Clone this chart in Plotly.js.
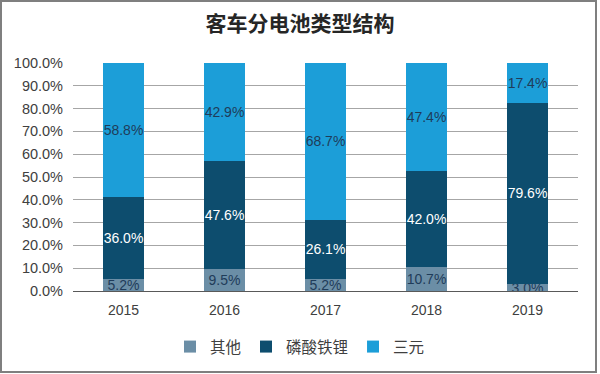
<!DOCTYPE html>
<html><head><meta charset="utf-8">
<script src="https://cdn.plot.ly/plotly-3.0.1.min.js"></script>
<style>html,body{margin:0;padding:0;background:#fff}#chart{width:600px;height:374px}</style>
</head><body><div id="chart"></div>
<script>
const years = ['2015','2016','2017','2018','2019'];
const other = [5.2, 9.5, 5.2, 10.7, 3.0];
const lfp = [36.0, 47.6, 26.1, 42.0, 79.6];
const ternary = [58.8, 42.9, 68.7, 47.4, 17.4];
const seriesNames = ['其他', '磷酸铁锂', '三元'];
const colors = ['#6b8ea6', '#0d4d6e', '#1c9ed8'];
const labelColors = ['#1f3c5a', '#ffffff', '#1f3c5a'];
const yTicks = [0,10,20,30,40,50,60,70,80,90,100];

const font = '"Liberation Sans", Arial, "Noto Sans CJK SC", sans-serif';
const series = [other, lfp, ternary];
const traces = series.map((vals, i) => ({
  type: 'bar', x: years, y: vals, name: seriesNames[i],
  marker: {color: colors[i]},
  text: vals.map(v => v.toFixed(1) + '%'),
  textposition: 'inside', insidetextanchor: 'middle', textangle: 0,
  constraintext: 'none',
  textfont: {family: font, size: 14, color: labelColors[i]},
  hoverinfo: 'none'
}));

const layout = {
  width: 600, height: 374,
  margin: {l: 73, r: 22, t: 63, b: 83},
  barmode: 'stack', bargap: 0.6,
  paper_bgcolor: '#fff', plot_bgcolor: '#fff',
  font: {family: font, color: '#404040'},
  title: {text: '客车分电池类型结构', x: 0.5, xref: 'container', y: 1 - 24/374, yref: 'container', yanchor: 'middle',
    font: {family: '"Noto Sans CJK SC", sans-serif', size: 21, color: '#262626', weight: 'bold'}},
  xaxis: {type: 'category', showgrid: false, showline: true, linecolor: '#595959', linewidth: 1,
    ticks: '', ticklabelstandoff: 6, tickfont: {size: 14, color: '#404040'}, fixedrange: true},
  yaxis: {range: [0, 100], tickvals: yTicks, ticktext: yTicks.map(v => v.toFixed(1) + '%'),
    showgrid: true, gridcolor: '#a6a6a6', gridwidth: 1, zeroline: false, showline: false,
    ticks: '', ticklabelstandoff: 9, tickfont: {size: 14.5, color: '#404040'}, fixedrange: true},
  showlegend: true,
  legend: {orientation: 'h', xref: 'container', yref: 'container', x: 0.5, xanchor: 'center',
    y: 1 - 347/374, yanchor: 'middle', font: {family: '"Noto Sans CJK SC", sans-serif', size: 15.5, color: '#404040'},
    itemwidth: 30, traceorder: 'normal'},
  shapes: [{type: 'rect', xref: 'paper', yref: 'paper',
    x0: (1 - 73) / 505, x1: (596 - 73) / 505, y0: (291 - 372) / 228, y1: (291 - 1) / 228,
    line: {color: '#7f7f7f', width: 2}, fillcolor: 'rgba(0,0,0,0)', layer: 'below'}]
};
Plotly.newPlot('chart', traces, layout, {displayModeBar: false, staticPlot: true});
</script></body></html>
